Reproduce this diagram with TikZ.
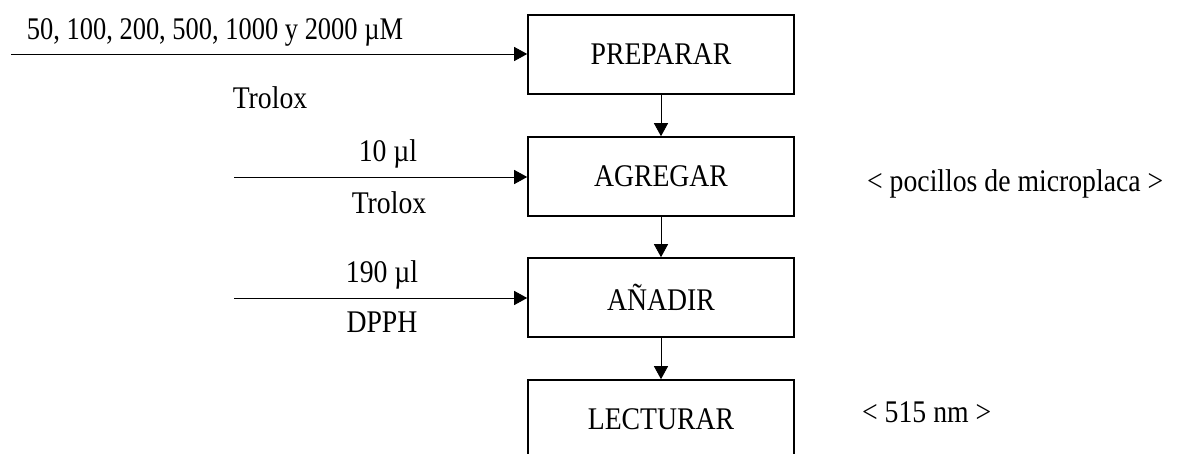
\documentclass[tikz,border=0pt]{standalone}
\usepackage{fontspec}
\setmainfont[FakeStretch=0.88]{Liberation Serif}
\newfontfamily\narrowserif[FakeStretch=0.84]{Liberation Serif}
\usetikzlibrary{arrows.meta}
\begin{document}
\begin{tikzpicture}[x=1pt,y=-1pt,
  stepbox/.style={draw,line width=1.6pt,minimum width=266pt,minimum height=79pt,inner sep=0pt,font=\fontsize{31.5}{36}\selectfont},
  lbl/.style={inner sep=0pt,anchor=base,font=\fontsize{31.5}{36}\selectfont},
  conn/.style={line width=0.9pt,-{Triangle[length=13pt,width=14pt]}}]
\useasboundingbox (0,0) rectangle (1179,454);
\clip (0,0) rectangle (1179,454);
\node[stepbox] (prep) at (661,54.5) {PREPARAR};
\node[stepbox] (agre) at (661,176.5) {AGREGAR};
\node[stepbox] (anad) at (661,297.5) {AÑADIR};
\node[stepbox] (lect) at (661,419.5) {LECTURAR};
\coordinate (s1) at (11,54);
\coordinate (s2) at (234,177);
\coordinate (s3) at (234,298);
\draw[conn] (s1) -- (s1 -| prep.west);
\draw[conn] (s2) -- (s2 -| agre.west);
\draw[conn] (s3) -- (s3 -| anad.west);
\draw[conn] (prep) -- (agre);
\draw[conn] (agre) -- (anad);
\draw[conn] (anad) -- (lect);
\node[lbl,font=\fontsize{31.5}{36}\narrowserif] (t1) at (215,40) {50, 100, 200, 500, 1000 y 2000 µM};
\node[lbl] (t2) at (270,109) {Trolox};
\node[lbl] (t3) at (388,162) {10 µl};
\node[lbl] (t4) at (389,214) {Trolox};
\node[lbl] (t5) at (382,283) {190 µl};
\node[lbl] (t6) at (382,333) {DPPH};
\node[lbl,anchor=base west] (t7) at (867,192) {< pocillos de microplaca >};
\node[lbl,anchor=base west] (t8) at (862,423) {< 515 nm >};
\end{tikzpicture}
\end{document}
